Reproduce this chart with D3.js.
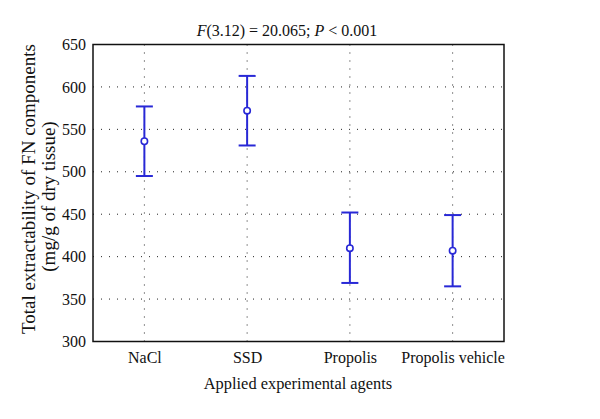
<!DOCTYPE html>
<html>
<head>
<meta charset="utf-8">
<script src="https://cdn.jsdelivr.net/npm/d3@7"></script>
<style>
  body { margin: 0; background: #fff; }
  text { font-family: "Liberation Serif", "DejaVu Serif", serif; fill: #111; }
</style>
</head>
<body>
<script>
// data
var agents = ["NaCl", "SSD", "Propolis", "Propolis vehicle"];
var means = [536, 572, 410, 407];
var lower = [495, 531, 369, 365];
var upper = [577, 613, 452, 449];
var yTicks = [300, 350, 400, 450, 500, 550, 600, 650];

var w = 600, h = 419;
// plot box (note: "top" is a reserved window global, so prefixed names)
var pLeft = 93, pRight = 504, pTop = 44.5, pBottom = 341.5;

var svg = d3.select("body").append("svg")
    .attr("width", w)
    .attr("height", h);

var xScale = d3.scaleLinear()
    .domain([0.5, agents.length + 0.5])
    .range([pLeft, pRight]);

var yScale = d3.scaleLinear()
    .domain([300, 650])
    .range([pBottom, pTop]);

// dotted grid
svg.append("g")
    .selectAll("line")
    .data(yTicks.slice(1, -1))
    .enter()
    .append("line")
    .attr("x1", pLeft).attr("x2", pRight)
    .attr("y1", function(d) { return yScale(d); })
    .attr("y2", function(d) { return yScale(d); })
    .attr("stroke", "#222")
    .attr("stroke-width", 1)
    .attr("stroke-dasharray", "1,7");

svg.append("g")
    .selectAll("line")
    .data(agents)
    .enter()
    .append("line")
    .attr("x1", function(d, i) { return xScale(i + 1); })
    .attr("x2", function(d, i) { return xScale(i + 1); })
    .attr("y1", pTop).attr("y2", pBottom)
    .attr("stroke", "#222")
    .attr("stroke-width", 1)
    .attr("stroke-dasharray", "1,7");

// axes
var yAxis = d3.axisLeft(yScale).tickValues(yTicks).tickSize(0).tickPadding(7);
var gy = svg.append("g")
    .attr("transform", "translate(" + pLeft + ",0)")
    .call(yAxis);
gy.select(".domain").remove();
gy.selectAll("text")
    .style("font-size", "16px")
    .style("font-family", "'Liberation Serif', serif")
    .attr("fill", "#111");

var xAxis = d3.axisBottom(xScale)
    .tickValues(d3.range(1, agents.length + 1))
    .tickFormat(function(d) { return agents[d - 1]; })
    .tickSize(0).tickPadding(10);
var gx = svg.append("g")
    .attr("transform", "translate(0," + pBottom + ")")
    .call(xAxis);
gx.select(".domain").remove();
gx.selectAll("text")
    .style("font-size", "16px")
    .style("font-family", "'Liberation Serif', serif")
    .attr("fill", "#111");

// frame
svg.append("rect")
    .attr("x", pLeft).attr("y", pTop)
    .attr("width", pRight - pLeft).attr("height", pBottom - pTop)
    .attr("fill", "none")
    .attr("stroke", "#111")
    .attr("stroke-width", 1.5);

// error bars
var blue = "#2828d6";
var bars = svg.append("g")
    .selectAll("g")
    .data(agents)
    .enter()
    .append("g");

bars.append("line")
    .attr("x1", function(d, i) { return xScale(i + 1); })
    .attr("x2", function(d, i) { return xScale(i + 1); })
    .attr("y1", function(d, i) { return yScale(upper[i]); })
    .attr("y2", function(d, i) { return yScale(lower[i]); })
    .attr("stroke", blue).attr("stroke-width", 2);

bars.append("line")
    .attr("x1", function(d, i) { return xScale(i + 1) - 8.5; })
    .attr("x2", function(d, i) { return xScale(i + 1) + 8.5; })
    .attr("y1", function(d, i) { return yScale(upper[i]); })
    .attr("y2", function(d, i) { return yScale(upper[i]); })
    .attr("stroke", blue).attr("stroke-width", 2);

bars.append("line")
    .attr("x1", function(d, i) { return xScale(i + 1) - 8.5; })
    .attr("x2", function(d, i) { return xScale(i + 1) + 8.5; })
    .attr("y1", function(d, i) { return yScale(lower[i]); })
    .attr("y2", function(d, i) { return yScale(lower[i]); })
    .attr("stroke", blue).attr("stroke-width", 2);

bars.append("circle")
    .attr("cx", function(d, i) { return xScale(i + 1); })
    .attr("cy", function(d, i) { return yScale(means[i]); })
    .attr("r", 3.2)
    .attr("fill", "#fff")
    .attr("stroke", blue).attr("stroke-width", 1.6);

// title
var title = svg.append("text")
    .attr("x", 287).attr("y", 36)
    .attr("text-anchor", "middle")
    .style("font-size", "16px");
title.append("tspan").style("font-style", "italic").text("F");
title.append("tspan").text("(3.12) = 20.065; ");
title.append("tspan").style("font-style", "italic").text("P");
title.append("tspan").text(" < 0.001");

// axis labels
svg.append("text")
    .attr("x", 298).attr("y", 389)
    .attr("text-anchor", "middle")
    .style("font-size", "16.4px")
    .text("Applied experimental agents");

svg.append("text")
    .attr("transform", "translate(35,189) rotate(-90)")
    .attr("text-anchor", "middle")
    .style("font-size", "19px")
    .text("Total extractability of FN components");

svg.append("text")
    .attr("transform", "translate(55,196.5) rotate(-90)")
    .attr("text-anchor", "middle")
    .style("font-size", "19px")
    .text("(mg/g of dry tissue)");
</script>
</body>
</html>
